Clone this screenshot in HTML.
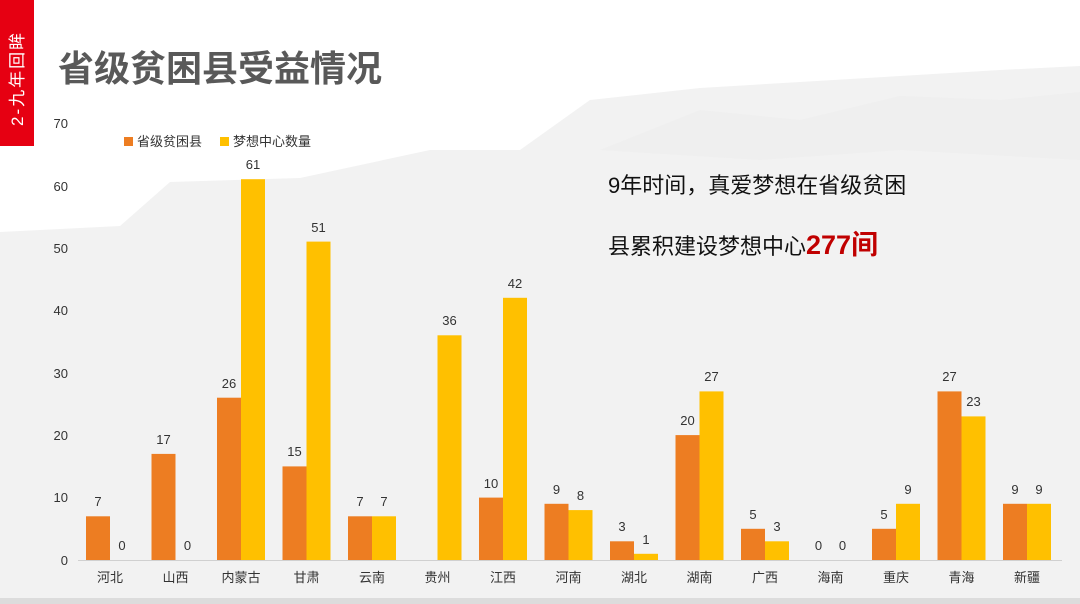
<!DOCTYPE html>
<html><head><meta charset="utf-8"><style>
html,body{margin:0;padding:0;width:1080px;height:604px;overflow:hidden;background:#fff;}
svg{display:block;font-family:"Liberation Sans","Noto Sans CJK SC",sans-serif;}
</style></head><body>
<svg width="1080" height="604" viewBox="0 0 1080 604">
<rect width="1080" height="604" fill="#fff"/>
<path d="M0,232 L120,226 L170,182 L300,178 L430,150 L520,150 L590,100 L700,88 L800,82 L900,76 L1000,70 L1080,66 L1080,604 L0,604 Z" fill="#f2f2f2"/>
<path d="M600,150 L700,110 L800,120 L900,96 L1000,100 L1080,92 L1080,160 L900,150 L760,160 Z" fill="#ececec" opacity="0.6"/>
<rect x="0" y="598" width="1080" height="6" fill="#dcdcdc"/>
<rect x="0" y="0" width="34" height="146" fill="#e60012"/>
<text transform="translate(23,126) rotate(-90)" font-size="17" letter-spacing="2" fill="#fff">2-九年回眸</text>
<text x="58" y="81" font-size="36" font-weight="bold" fill="#595959">省级贫困县受益情况</text>
<g font-size="13" fill="#333" text-anchor="end">
<text x="68" y="565">0</text><text x="68" y="502">10</text><text x="68" y="440">20</text><text x="68" y="378">30</text><text x="68" y="315">40</text><text x="68" y="253">50</text><text x="68" y="191">60</text><text x="68" y="128">70</text>
</g>
<rect x="124" y="137" width="9" height="9" fill="#ed7d22"/><text x="137" y="146" font-size="13" fill="#333">省级贫困县</text>
<rect x="220" y="137" width="9" height="9" fill="#ffc000"/><text x="233" y="146" font-size="13" fill="#333">梦想中心数量</text>
<text x="608" y="193" font-size="22" fill="#111">9年时间，真爱梦想在省级贫困</text>
<text x="608" y="254" font-size="22" fill="#111">县累积建设梦想中心<tspan font-size="27" font-weight="bold" fill="#c00000">277间</tspan></text>
<line x1="78" y1="560.5" x2="1062" y2="560.5" stroke="#d0d0d0" stroke-width="1"/>
<g fill="#ed7d22">
<rect x="86" y="516.3" width="24" height="43.7"/>
<rect x="151.5" y="453.9" width="24" height="106.1"/>
<rect x="217" y="397.7" width="24" height="162.3"/>
<rect x="282.5" y="466.4" width="24" height="93.6"/>
<rect x="348" y="516.3" width="24" height="43.7"/>
<rect x="479" y="497.6" width="24" height="62.4"/>
<rect x="544.5" y="503.8" width="24" height="56.2"/>
<rect x="610" y="541.3" width="24" height="18.7"/>
<rect x="675.5" y="435.1" width="24" height="124.9"/>
<rect x="741" y="528.8" width="24" height="31.2"/>
<rect x="872" y="528.8" width="24" height="31.2"/>
<rect x="937.5" y="391.4" width="24" height="168.6"/>
<rect x="1003" y="503.8" width="24" height="56.2"/>
</g>
<g fill="#ffc000">
<rect x="241" y="179.2" width="24" height="380.8"/>
<rect x="306.5" y="241.6" width="24" height="318.4"/>
<rect x="372" y="516.3" width="24" height="43.7"/>
<rect x="437.5" y="335.3" width="24" height="224.7"/>
<rect x="503" y="297.8" width="24" height="262.2"/>
<rect x="568.5" y="510.1" width="24" height="49.9"/>
<rect x="634" y="553.8" width="24" height="6.2"/>
<rect x="699.5" y="391.4" width="24" height="168.6"/>
<rect x="765" y="541.3" width="24" height="18.7"/>
<rect x="896" y="503.8" width="24" height="56.2"/>
<rect x="961.5" y="416.4" width="24" height="143.6"/>
<rect x="1027" y="503.8" width="24" height="56.2"/>
</g>
<g font-size="13" fill="#333" text-anchor="middle">
<text x="98" y="506">7</text><text x="122" y="550">0</text>
<text x="163.5" y="444">17</text><text x="187.5" y="550">0</text>
<text x="229" y="388">26</text><text x="253" y="169">61</text>
<text x="294.5" y="456">15</text><text x="318.5" y="232">51</text>
<text x="360" y="506">7</text><text x="384" y="506">7</text>
<text x="449.5" y="325">36</text>
<text x="491" y="488">10</text><text x="515" y="288">42</text>
<text x="556.5" y="494">9</text><text x="580.5" y="500">8</text>
<text x="622" y="531">3</text><text x="646" y="544">1</text>
<text x="687.5" y="425">20</text><text x="711.5" y="381">27</text>
<text x="753" y="519">5</text><text x="777" y="531">3</text>
<text x="818.5" y="550">0</text><text x="842.5" y="550">0</text>
<text x="884" y="519">5</text><text x="908" y="494">9</text>
<text x="949.5" y="381">27</text><text x="973.5" y="406">23</text>
<text x="1015" y="494">9</text><text x="1039" y="494">9</text>
</g>
<g font-size="13" fill="#333" text-anchor="middle">
<text x="110" y="582">河北</text><text x="175.5" y="582">山西</text><text x="241" y="582">内蒙古</text><text x="306.5" y="582">甘肃</text><text x="372" y="582">云南</text><text x="437.5" y="582">贵州</text><text x="503" y="582">江西</text><text x="568.5" y="582">河南</text><text x="634" y="582">湖北</text><text x="699.5" y="582">湖南</text><text x="765" y="582">广西</text><text x="830.5" y="582">海南</text><text x="896" y="582">重庆</text><text x="961.5" y="582">青海</text><text x="1027" y="582">新疆</text>
</g>
</svg>
</body></html>
